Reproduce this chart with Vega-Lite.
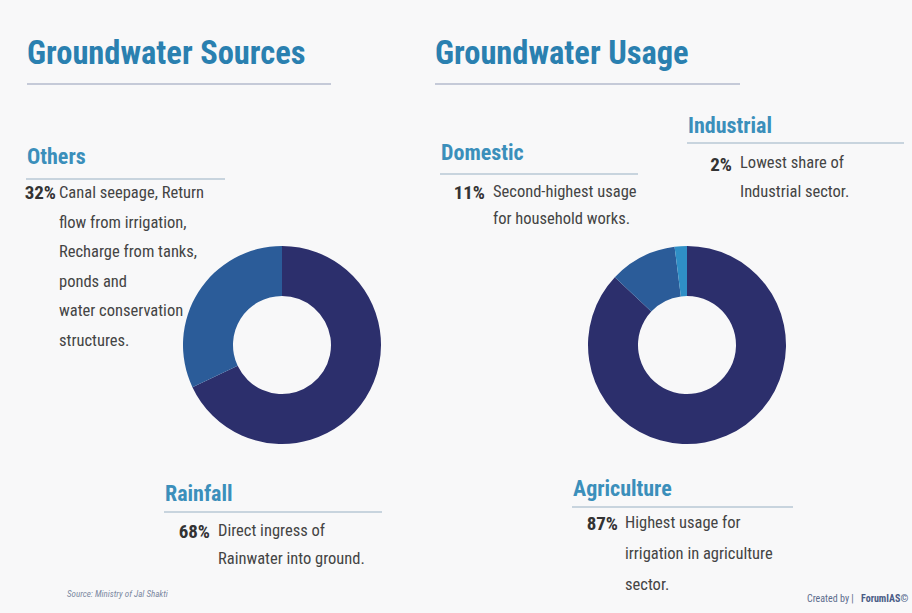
{
  "$schema": "https://vega.github.io/schema/vega-lite/v6.json",
  "width": 912,
  "height": 613,
  "autosize": {"type": "fit", "contains": "padding"},
  "padding": 0,
  "background": "#f8f8f9",
  "config": {
    "view": {"stroke": null},
    "text": {"font": "Roboto Condensed, Liberation Sans Narrow, DejaVu Sans Condensed, Roboto", "lineBreak": "\n"}
  },
  "datasets": {
    "slices": [
      {"chart": "Groundwater Sources", "category": "Rainfall", "share": 0.68, "desc": "Direct ingress of\nRainwater into ground."},
      {"chart": "Groundwater Sources", "category": "Others", "share": 0.32, "desc": "Canal seepage, Return\nflow from irrigation,\nRecharge from tanks,\nponds and\nwater conservation\nstructures."},
      {"chart": "Groundwater Usage", "category": "Agriculture", "share": 0.87, "desc": "Highest usage for\nirrigation in agriculture\nsector."},
      {"chart": "Groundwater Usage", "category": "Domestic", "share": 0.11, "desc": "Second-highest usage\nfor household works."},
      {"chart": "Groundwater Usage", "category": "Industrial", "share": 0.02, "desc": "Lowest share of\nIndustrial sector."}
    ],
    "notes": [
      {"key": "titleS", "text": "Groundwater Sources"},
      {"key": "titleU", "text": "Groundwater Usage"},
      {"key": "source", "text": "Source: Ministry of Jal Shakti"},
      {"key": "created", "text": "Created by |"},
      {"key": "brand", "text": "ForumIAS©"}
    ]
  },
  "layer": [
    {
      "data": {"name": "slices"},
      "transform": [{"filter": "datum.chart === 'Groundwater Sources'"}],
      "mark": {"type": "arc", "innerRadius": 49, "outerRadius": 99},
      "encoding": {
        "theta": {"field": "share", "type": "quantitative", "stack": true},
        "order": {"field": "share", "sort": "descending"},
        "color": {"field": "category", "type": "nominal", "legend": null,
          "scale": {"domain": ["Rainfall", "Others", "Agriculture", "Domestic", "Industrial"], "range": ["#2c2f6c", "#2b5c99", "#2c2f6c", "#2b5c99", "#2f8fc6"]}},
        "x": {"field": "chart", "type": "nominal", "axis": null, "scale": {"type": "point", "domain": ["Groundwater Sources", "Groundwater Usage"], "range": [282, 687], "padding": 0}},
        "y": {"field": "chart", "type": "nominal", "axis": null, "scale": {"type": "point", "domain": ["Groundwater Sources", "Groundwater Usage"], "range": [345, 345], "padding": 0}}
      }
    },
    {
      "data": {"name": "slices"},
      "transform": [{"filter": "datum.chart === 'Groundwater Usage'"}],
      "mark": {"type": "arc", "innerRadius": 49, "outerRadius": 99},
      "encoding": {
        "theta": {"field": "share", "type": "quantitative", "stack": true},
        "order": {"field": "share", "sort": "descending"},
        "color": {"field": "category", "type": "nominal", "legend": null,
          "scale": {"domain": ["Rainfall", "Others", "Agriculture", "Domestic", "Industrial"], "range": ["#2c2f6c", "#2b5c99", "#2c2f6c", "#2b5c99", "#2f8fc6"]}},
        "x": {"field": "chart", "type": "nominal", "axis": null, "scale": {"type": "point", "domain": ["Groundwater Sources", "Groundwater Usage"], "range": [282, 687], "padding": 0}},
        "y": {"field": "chart", "type": "nominal", "axis": null, "scale": {"type": "point", "domain": ["Groundwater Sources", "Groundwater Usage"], "range": [345, 345], "padding": 0}}
      }
    },
    {"data": {"name": "notes"}, "transform": [{"filter": "datum.key === 'titleS'"}],
     "mark": {"type": "text", "x": 27, "y": 64, "align": "left", "baseline": "alphabetic", "fontSize": 32.5, "fontWeight": "bold", "color": "#2a80b0"},
     "encoding": {"text": {"field": "text", "type": "nominal"}}},
    {"data": {"name": "notes"}, "transform": [{"filter": "datum.key === 'titleS'"}],
     "mark": {"type": "rule", "color": "#c5cad8", "strokeWidth": 2},
     "encoding": {"x": {"value": 27}, "x2": {"value": 331}, "y": {"value": 84}}},
    {"data": {"name": "notes"}, "transform": [{"filter": "datum.key === 'titleU'"}],
     "mark": {"type": "text", "x": 435, "y": 64, "align": "left", "baseline": "alphabetic", "fontSize": 32.5, "fontWeight": "bold", "color": "#2a80b0"},
     "encoding": {"text": {"field": "text", "type": "nominal"}}},
    {"data": {"name": "notes"}, "transform": [{"filter": "datum.key === 'titleU'"}],
     "mark": {"type": "rule", "color": "#c5cad8", "strokeWidth": 2},
     "encoding": {"x": {"value": 435}, "x2": {"value": 740}, "y": {"value": 84}}},

    {"data": {"name": "slices"}, "transform": [{"filter": "datum.category === 'Others'"}],
     "mark": {"type": "text", "x": 27, "y": 164, "align": "left", "baseline": "alphabetic", "fontSize": 22, "fontWeight": "bold", "color": "#3b8fbb"},
     "encoding": {"text": {"field": "category", "type": "nominal"}}},
    {"data": {"name": "slices"}, "transform": [{"filter": "datum.category === 'Others'"}],
     "mark": {"type": "rule", "color": "#b9c9d4", "strokeWidth": 1.5},
     "encoding": {"x": {"value": 26}, "x2": {"value": 225}, "y": {"value": 179}}},
    {"data": {"name": "slices"}, "transform": [{"filter": "datum.category === 'Others'"}],
     "mark": {"type": "text", "x": 56, "y": 199, "align": "right", "baseline": "alphabetic", "fontSize": 19, "fontWeight": "bold", "color": "#333333"},
     "encoding": {"text": {"field": "share", "type": "quantitative", "format": ".0%"}}},
    {"data": {"name": "slices"}, "transform": [{"filter": "datum.category === 'Others'"}],
     "mark": {"type": "text", "x": 59, "y": 198, "align": "left", "baseline": "alphabetic", "fontSize": 16.5, "lineHeight": 29.6, "color": "#444444"},
     "encoding": {"text": {"field": "desc", "type": "nominal"}}},

    {"data": {"name": "slices"}, "transform": [{"filter": "datum.category === 'Domestic'"}],
     "mark": {"type": "text", "x": 441, "y": 160, "align": "left", "baseline": "alphabetic", "fontSize": 22, "fontWeight": "bold", "color": "#3b8fbb"},
     "encoding": {"text": {"field": "category", "type": "nominal"}}},
    {"data": {"name": "slices"}, "transform": [{"filter": "datum.category === 'Domestic'"}],
     "mark": {"type": "rule", "color": "#b9c9d4", "strokeWidth": 1.5},
     "encoding": {"x": {"value": 440}, "x2": {"value": 638}, "y": {"value": 174}}},
    {"data": {"name": "slices"}, "transform": [{"filter": "datum.category === 'Domestic'"}],
     "mark": {"type": "text", "x": 485, "y": 199, "align": "right", "baseline": "alphabetic", "fontSize": 19, "fontWeight": "bold", "color": "#333333"},
     "encoding": {"text": {"field": "share", "type": "quantitative", "format": ".0%"}}},
    {"data": {"name": "slices"}, "transform": [{"filter": "datum.category === 'Domestic'"}],
     "mark": {"type": "text", "x": 493, "y": 197, "align": "left", "baseline": "alphabetic", "fontSize": 16.5, "lineHeight": 27, "color": "#444444"},
     "encoding": {"text": {"field": "desc", "type": "nominal"}}},

    {"data": {"name": "slices"}, "transform": [{"filter": "datum.category === 'Industrial'"}],
     "mark": {"type": "text", "x": 688, "y": 133, "align": "left", "baseline": "alphabetic", "fontSize": 22, "fontWeight": "bold", "color": "#3b8fbb"},
     "encoding": {"text": {"field": "category", "type": "nominal"}}},
    {"data": {"name": "slices"}, "transform": [{"filter": "datum.category === 'Industrial'"}],
     "mark": {"type": "rule", "color": "#b9c9d4", "strokeWidth": 1.5},
     "encoding": {"x": {"value": 687}, "x2": {"value": 904}, "y": {"value": 143}}},
    {"data": {"name": "slices"}, "transform": [{"filter": "datum.category === 'Industrial'"}],
     "mark": {"type": "text", "x": 732, "y": 171, "align": "right", "baseline": "alphabetic", "fontSize": 19, "fontWeight": "bold", "color": "#333333"},
     "encoding": {"text": {"field": "share", "type": "quantitative", "format": ".0%"}}},
    {"data": {"name": "slices"}, "transform": [{"filter": "datum.category === 'Industrial'"}],
     "mark": {"type": "text", "x": 740, "y": 168, "align": "left", "baseline": "alphabetic", "fontSize": 16.5, "lineHeight": 29, "color": "#444444"},
     "encoding": {"text": {"field": "desc", "type": "nominal"}}},

    {"data": {"name": "slices"}, "transform": [{"filter": "datum.category === 'Rainfall'"}],
     "mark": {"type": "text", "x": 165, "y": 501, "align": "left", "baseline": "alphabetic", "fontSize": 22, "fontWeight": "bold", "color": "#3b8fbb"},
     "encoding": {"text": {"field": "category", "type": "nominal"}}},
    {"data": {"name": "slices"}, "transform": [{"filter": "datum.category === 'Rainfall'"}],
     "mark": {"type": "rule", "color": "#b9c9d4", "strokeWidth": 1.5},
     "encoding": {"x": {"value": 164}, "x2": {"value": 382}, "y": {"value": 512}}},
    {"data": {"name": "slices"}, "transform": [{"filter": "datum.category === 'Rainfall'"}],
     "mark": {"type": "text", "x": 210, "y": 538, "align": "right", "baseline": "alphabetic", "fontSize": 19, "fontWeight": "bold", "color": "#333333"},
     "encoding": {"text": {"field": "share", "type": "quantitative", "format": ".0%"}}},
    {"data": {"name": "slices"}, "transform": [{"filter": "datum.category === 'Rainfall'"}],
     "mark": {"type": "text", "x": 218, "y": 536, "align": "left", "baseline": "alphabetic", "fontSize": 16.5, "lineHeight": 28, "color": "#444444"},
     "encoding": {"text": {"field": "desc", "type": "nominal"}}},

    {"data": {"name": "slices"}, "transform": [{"filter": "datum.category === 'Agriculture'"}],
     "mark": {"type": "text", "x": 573, "y": 496, "align": "left", "baseline": "alphabetic", "fontSize": 22, "fontWeight": "bold", "color": "#3b8fbb"},
     "encoding": {"text": {"field": "category", "type": "nominal"}}},
    {"data": {"name": "slices"}, "transform": [{"filter": "datum.category === 'Agriculture'"}],
     "mark": {"type": "rule", "color": "#b9c9d4", "strokeWidth": 1.5},
     "encoding": {"x": {"value": 572}, "x2": {"value": 793}, "y": {"value": 507}}},
    {"data": {"name": "slices"}, "transform": [{"filter": "datum.category === 'Agriculture'"}],
     "mark": {"type": "text", "x": 618, "y": 530, "align": "right", "baseline": "alphabetic", "fontSize": 19, "fontWeight": "bold", "color": "#333333"},
     "encoding": {"text": {"field": "share", "type": "quantitative", "format": ".0%"}}},
    {"data": {"name": "slices"}, "transform": [{"filter": "datum.category === 'Agriculture'"}],
     "mark": {"type": "text", "x": 625, "y": 528, "align": "left", "baseline": "alphabetic", "fontSize": 16.5, "lineHeight": 31, "color": "#444444"},
     "encoding": {"text": {"field": "desc", "type": "nominal"}}},

    {"data": {"name": "notes"}, "transform": [{"filter": "datum.key === 'source'"}],
     "mark": {"type": "text", "x": 67, "y": 597, "align": "left", "baseline": "alphabetic", "fontSize": 9, "fontStyle": "italic", "color": "#7b88a1"},
     "encoding": {"text": {"field": "text", "type": "nominal"}}},
    {"data": {"name": "notes"}, "transform": [{"filter": "datum.key === 'created'"}],
     "mark": {"type": "text", "x": 807, "y": 602, "align": "left", "baseline": "alphabetic", "fontSize": 10, "color": "#5b6b8c"},
     "encoding": {"text": {"field": "text", "type": "nominal"}}},
    {"data": {"name": "notes"}, "transform": [{"filter": "datum.key === 'brand'"}],
     "mark": {"type": "text", "x": 861, "y": 602, "align": "left", "baseline": "alphabetic", "fontSize": 10, "fontWeight": "bold", "color": "#4a5c86"},
     "encoding": {"text": {"field": "text", "type": "nominal"}}}
  ]
}
